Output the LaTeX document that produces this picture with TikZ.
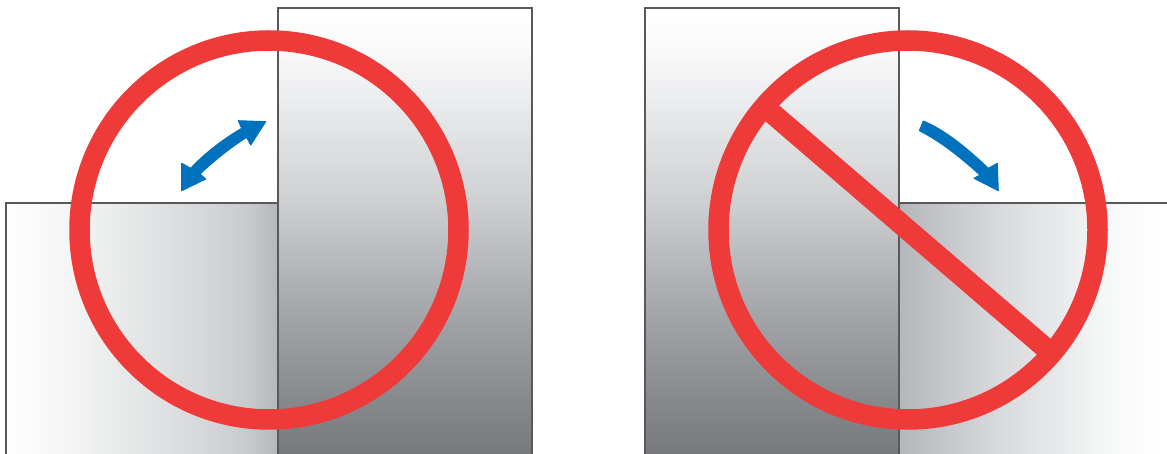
\documentclass[tikz,border=0pt]{standalone}
\usepackage{xcolor}
\usetikzlibrary{shadings}
\definecolor{ringred}{HTML}{EF3A3A}
\definecolor{swingblue}{HTML}{0071BC}
\definecolor{edgegray}{HTML}{58595B}
\pgfdeclareverticalshading{uprightfade}{100bp}{rgb(0bp)=(0.46,0.465,0.48); rgb(26.7bp)=(0.47,0.475,0.49); rgb(32.6bp)=(0.53,0.535,0.545); rgb(43.4bp)=(0.66,0.665,0.68); rgb(54.2bp)=(0.81,0.815,0.825); rgb(65bp)=(0.92,0.925,0.93); rgb(70.5bp)=(0.98,0.98,0.985); rgb(75bp)=(1,1,1); rgb(100bp)=(1,1,1)}
\pgfdeclarehorizontalshading{flatleftfade}{100bp}{rgb(0bp)=(1,1,1); rgb(25bp)=(1,1,1); rgb(31.25bp)=(0.98,0.98,0.98); rgb(42.3bp)=(0.93,0.935,0.935); rgb(60.7bp)=(0.84,0.845,0.855); rgb(69.7bp)=(0.785,0.79,0.80); rgb(75bp)=(0.71,0.715,0.73); rgb(100bp)=(0.71,0.715,0.73)}
\pgfdeclarehorizontalshading{flatrightfade}{100bp}{rgb(0bp)=(0.71,0.715,0.73); rgb(25bp)=(0.71,0.715,0.73); rgb(43bp)=(0.85,0.855,0.865); rgb(53.6bp)=(0.91,0.915,0.92); rgb(60.7bp)=(0.96,0.965,0.965); rgb(71bp)=(1,1,1); rgb(100bp)=(1,1,1)}

\begin{document}
\begin{tikzpicture}[x=1pt,y=-1pt,
    panel/.style={draw=edgegray,line width=1.5pt},
    upright/.style={panel,shading=uprightfade},
    flatleft/.style={panel,shading=flatleftfade},
    flatright/.style={panel,shading=flatrightfade},
    ring/.style={draw=ringred,line width=20.5pt},
    slash/.style={draw=ringred,line width=21pt},
    swing/.style={fill=swingblue,draw=swingblue,line width=1pt,line join=round}]
  \useasboundingbox (0,0) rectangle (1167,454);
  \draw[flatleft] (6,203) rectangle (278,470);
  \draw[upright] (278,8) rectangle (532,470);
  \coordinate (ca) at (269,230);
  \draw[ring] (ca) circle[radius=189.5];
  \draw[swing] (265.7,121.7) -- (250.7,145) -- (246.7,137.3)
    .. controls (230,148) and (215,160) .. (200,174)
    -- (205.7,179) -- (181.7,190.7) -- (181.7,163.3) -- (190.7,168.3)
    .. controls (205,153) and (222,140) .. (241.7,128.3)
    -- (238.3,120.7) -- cycle;
  \draw[upright] (645,8) rectangle (899,470);
  \draw[flatright] (899,203) rectangle (1180,470);
  \coordinate (cb) at (908,230);
  \draw[ring] (cb) circle[radius=189.5];
  \coordinate (sa) at (766,108);
  \coordinate (sb) at (1050,352);
  \draw[slash] (sa) -- (sb);
  \draw[swing] (923.3,121) .. controls (945,130) and (967,148) .. (988.3,168.3)
    -- (997.3,163.3) -- (998.3,190.7) -- (974,178.3) -- (980,175)
    .. controls (960,157) and (940,141) .. (919.3,130.7) -- cycle;
\end{tikzpicture}
\end{document}
